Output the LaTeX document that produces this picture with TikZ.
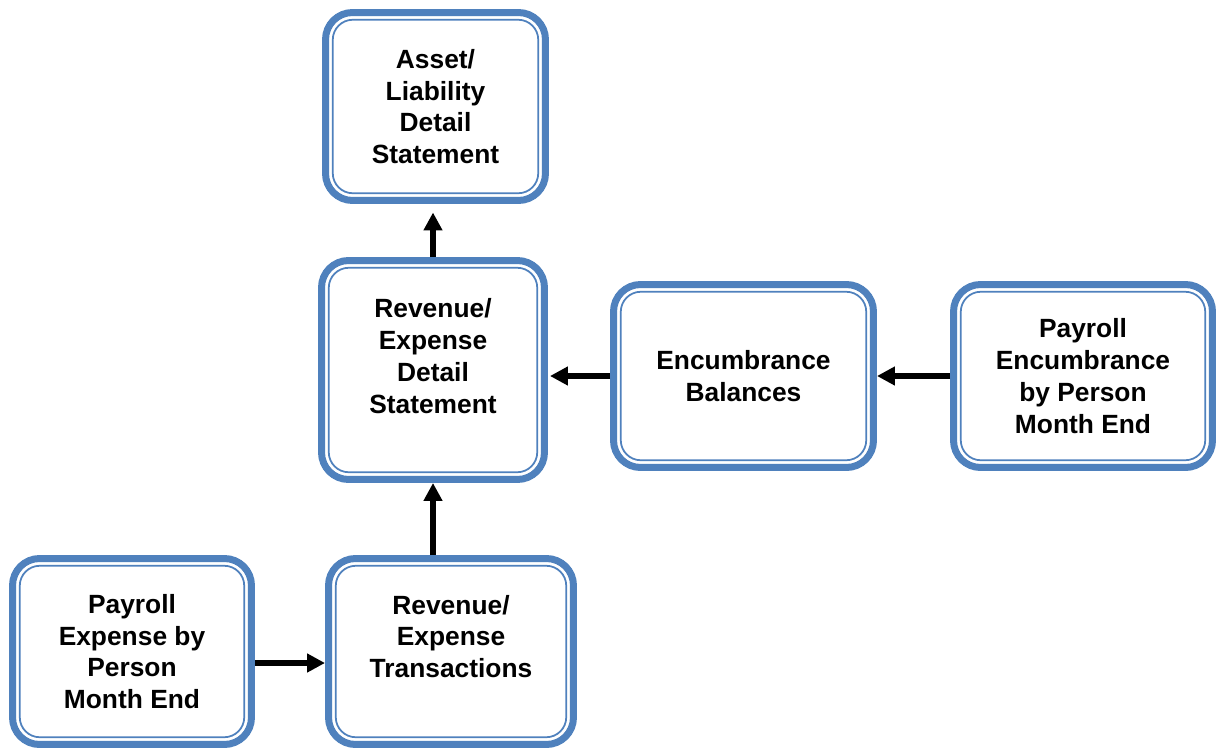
\documentclass[tikz,border=0pt]{standalone}
\usepackage{fontspec}
\setmainfont{Liberation Sans}
\usetikzlibrary{arrows.meta}
\definecolor{boxblue}{HTML}{4F81BD}

\begin{document}
\begin{tikzpicture}[x=0.02cm,y=-0.02cm,
    >={Triangle[length=0.36cm,width=0.36cm]},
    blockbox/.style={draw=boxblue,line width=0.14cm,rounded corners=0.54cm,fill=white},
    innerline/.style={draw=boxblue,line width=0.035cm,rounded corners=0.4cm},
    blocktext/.style={align=center,font=\fontsize{15}{18.1}\selectfont\bfseries},
    link/.style={->,line width=0.13cm}]
    \useasboundingbox (0,0) rectangle (1220,747);

    % Boxes
    \node[blockbox,minimum width=4.40cm,minimum height=3.76cm] (asset) at (435.5,106.5) {};
    \node[blockbox,minimum width=4.46cm,minimum height=4.38cm] (revdet) at (433,370) {};
    \node[blockbox,minimum width=5.20cm,minimum height=3.66cm] (enc) at (743.5,376) {};
    \node[blockbox,minimum width=5.18cm,minimum height=3.66cm] (penc) at (1083,376) {};
    \node[blockbox,minimum width=4.78cm,minimum height=3.72cm] (pexp) at (132,651.5) {};
    \node[blockbox,minimum width=4.90cm,minimum height=3.72cm] (trans) at (451,651.5) {};

    % Inner lines (anchors sit on the outer edge of the thick border)
    \foreach \boxname in {asset,revdet,enc,penc,pexp,trans}{
        \path[innerline] ([xshift=0.215cm,yshift=0.215cm]\boxname.south west)
            rectangle ([xshift=-0.215cm,yshift=-0.215cm]\boxname.north east);
    }

    % Labels
    \node[blocktext] (assettxt) at (asset.center) {Asset/\\Liability\\Detail\\Statement};
    \node[blocktext] (revdettxt) at ([yshift=0.28cm]revdet.center) {Revenue/\\Expense\\Detail\\Statement};
    \node[blocktext] (enctxt) at (enc.center) {Encumbrance\\Balances};
    \node[blocktext] (penctxt) at (penc.center) {Payroll\\Encumbrance\\by Person\\Month End};
    \node[blocktext] (pexptxt) at (pexp.center) {Payroll\\Expense by\\Person\\Month End};
    \node[blocktext] (transtxt) at ([yshift=0.3cm]trans.center) {Revenue/\\Expense\\Transactions};

    % Arrows
    \draw[link] (trans.north -| revdet.south) -- (revdet.south);
    \draw[link,shorten >=0.17cm] (revdet.north) -- (revdet.north |- asset.south);
    \draw[link,shorten >=0.04cm] (enc.west) -- (enc.west -| revdet.east);
    \draw[link] (penc.west) -- (penc.west -| enc.east);
    \draw[link] ([yshift=-0.23cm]pexp.east) -- ([yshift=-0.23cm]pexp.east -| trans.west);
\end{tikzpicture}
\end{document}
